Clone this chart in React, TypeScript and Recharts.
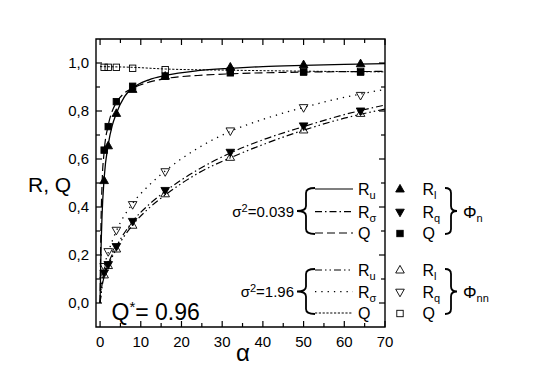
import React from 'react';
import { ComposedChart, Line, Scatter, XAxis, YAxis, ReferenceArea } from 'recharts';

// ---------- data ----------
const X_TICKS = [0, 5, 10, 15, 20, 25, 30, 35, 40, 45, 50, 55, 60, 65, 70];
const X_LABELS = ['0', '10', '20', '30', '40', '50', '60', '70'];
const Y_TICKS = [0, 0.1, 0.2, 0.3, 0.4, 0.5, 0.6, 0.7, 0.8, 0.9, 1.0];
const Y_LABELS = ['0,0', '0,2', '0,4', '0,6', '0,8', '1,0'];

// theory curves, sigma^2 = 0.039
const RU039_A = [0, 0.2, 0.5, 1, 2, 3, 4, 6, 8, 12, 16, 24, 32, 40, 50, 60, 70];
const RU039_V = [0, 0.2, 0.37, 0.52, 0.66, 0.74, 0.79, 0.86, 0.895, 0.93, 0.948, 0.968, 0.978, 0.985, 0.99, 0.994, 0.997];
const RS039_A = [0, 0.5, 1, 2, 4, 8, 12, 16, 24, 32, 40, 50, 60, 70];
const RS039_V = [0, 0.08, 0.12, 0.165, 0.235, 0.34, 0.41, 0.465, 0.555, 0.625, 0.68, 0.735, 0.785, 0.825];
const Q039_A = [0, 0.2, 0.5, 1, 2, 3, 4, 6, 8, 12, 16, 24, 32, 50, 70];
const Q039_V = [0, 0.3, 0.5, 0.63, 0.74, 0.8, 0.835, 0.875, 0.895, 0.92, 0.935, 0.948, 0.955, 0.962, 0.965];
// theory curves, sigma^2 = 1.96
const RU196_A = [0, 0.5, 1, 2, 4, 8, 12, 16, 24, 32, 40, 50, 60, 70];
const RU196_V = [0, 0.07, 0.11, 0.155, 0.225, 0.325, 0.395, 0.45, 0.54, 0.605, 0.66, 0.72, 0.77, 0.808];
const RS196_A = [0, 0.5, 1, 2, 4, 8, 12, 16, 24, 32, 40, 50, 60, 70];
const RS196_V = [0, 0.1, 0.15, 0.21, 0.3, 0.415, 0.49, 0.55, 0.645, 0.715, 0.765, 0.815, 0.857, 0.89];
const Q196_A = [0, 8, 16, 32, 50, 70];
const Q196_V = [0.985, 0.982, 0.975, 0.97, 0.966, 0.963];

// simulation points
const ALPHA_PTS = [1, 2, 4, 8, 16, 32, 50, 64];
const RL_N = [0.51, 0.655, 0.79, 0.89, 0.945, 0.983, 0.993, 0.997];
const RQ_N = [0.125, 0.16, 0.235, 0.34, 0.469, 0.628, 0.738, 0.8];
const Q_N = [0.637, 0.735, 0.839, 0.903, 0.945, 0.959, 0.962, 0.962];
const RL_NN = [0.117, 0.156, 0.225, 0.324, 0.455, 0.607, 0.721, 0.79];
const RQ_NN = [0.152, 0.214, 0.303, 0.41, 0.547, 0.717, 0.814, 0.865];
const Q_NN = [0.982, 0.982, 0.982, 0.978, 0.972, 0.968, 0.965, 0.965];

const zip = (a: number[], v: number[]) => a.map((x, i) => ({ a: x, v: v[i] }));

// ---------- layout ----------
const W = 541;
const H = 374;
const M_TOP = 31;
const M_RIGHT = 164;
const YAXIS_W = 88;
const XAXIS_H = 55;
const PH = H - M_TOP - XAXIS_H;
const PW = W - M_RIGHT - YAXIS_W;
const F = 'Liberation Sans, Arial, Helvetica, sans-serif';
const K = '#000';

const DASH = {
  solid: undefined as string | undefined,
  dashDot: '7 3 1.5 3',
  dashed: '8 4',
  dashDotDot: '7 3 1.5 3 1.5 3',
  dotted: '1.3 5',
  fine: '2.2 1.6',
};

// ---------- ticks ----------
const XTick = (props: any) => {
  const { x, y, payload } = props;
  const v = payload.value;
  const major = v % 10 === 0;
  const len = major ? 6 : 4;
  const label = X_LABELS.find((l) => Number(l) === v);
  return (
    <g>
      <line x1={x} y1={y} x2={x} y2={y - len} stroke={K} strokeWidth={1.2} />
      <line x1={x} y1={y - PH} x2={x} y2={y - PH + len} stroke={K} strokeWidth={1.2} />
      {major && label !== undefined && (
        <text x={x} y={y + 20} textAnchor="middle" fontSize={15} fontFamily={F} fill={K}>
          {label}
        </text>
      )}
    </g>
  );
};

const YTick = (props: any) => {
  const { x, y, payload } = props;
  const v = payload.value;
  const idx = Math.round(v * 10);
  const major = idx % 2 === 0;
  const len = major ? 6 : 4;
  const label = major ? Y_LABELS[idx / 2] : undefined;
  return (
    <g>
      <line x1={x} y1={y} x2={x + len} y2={y} stroke={K} strokeWidth={1.2} />
      <line x1={x + PW} y1={y} x2={x + PW - len} y2={y} stroke={K} strokeWidth={1.2} />
      {label && (
        <text x={x - 7} y={y + 5.3} textAnchor="end" fontSize={15} fontFamily={F} fill={K}>
          {label}
        </text>
      )}
    </g>
  );
};

// ---------- markers ----------
const triUp = (cx: number, cy: number, filled: boolean, key?: any) => (
  <polygon
    key={key}
    points={`${cx},${cy - 4.6} ${cx - 4.3},${cy + 3} ${cx + 4.3},${cy + 3}`}
    fill={filled ? K : 'none'}
    stroke={K}
    strokeWidth={0.9}
  />
);
const triDown = (cx: number, cy: number, filled: boolean, key?: any) => (
  <polygon
    key={key}
    points={`${cx},${cy + 4.6} ${cx - 4.3},${cy - 3} ${cx + 4.3},${cy - 3}`}
    fill={filled ? K : 'none'}
    stroke={K}
    strokeWidth={0.9}
  />
);
const square = (cx: number, cy: number, filled: boolean, key?: any) => (
  <rect
    key={key}
    x={cx - 3.2}
    y={cy - 3.2}
    width={6.4}
    height={6.4}
    fill={filled ? K : 'none'}
    stroke={K}
    strokeWidth={0.9}
  />
);

const mk = (fn: typeof triUp, filled: boolean) => (p: any) => fn(p.cx, p.cy, filled);

// ---------- legend overlay ----------
const brace = (xTip: number, xArm: number, y0: number, y1: number, left: boolean) => {
  const ym = (y0 + y1) / 2;
  const xm = (xTip + xArm) / 2;
  const r = 5;
  const d = [
    `M ${xArm} ${y0}`,
    `Q ${xm} ${y0} ${xm} ${y0 + r}`,
    `L ${xm} ${ym - r}`,
    `Q ${xm} ${ym} ${xTip} ${ym}`,
    `Q ${xm} ${ym} ${xm} ${ym + r}`,
    `L ${xm} ${y1 - r}`,
    `Q ${xm} ${y1} ${xArm} ${y1}`,
  ].join(' ');
  return <path d={d} fill="none" stroke={K} strokeWidth={1.8} key={`${xTip}-${y0}-${left}`} />;
};

const Sub = ({ x, y, main, sub, size = 16 }: any) => (
  <text x={x} y={y} fontSize={size} fontFamily={F} fill={K}>
    {main}
    {sub && (
      <tspan dy={4} fontSize={11}>
        {sub}
      </tspan>
    )}
  </text>
);

const G1 = [181, 203.7, 225];
const G2 = [262, 283.7, 305];
const THEORY_LABELS = [
  { main: 'R', sub: 'u' },
  { main: 'R', sub: 'σ' },
  { main: 'Q', sub: '' },
];
const SIM_LABELS = [
  { main: 'R', sub: 'l' },
  { main: 'R', sub: 'q' },
  { main: 'Q', sub: '' },
];

const LegendOverlay = () => {
  const lineX0 = 307;
  const lineX1 = 345;
  const labX = 350;
  const symX = 392;
  const simX = 414.5;
  const g1Dash = [DASH.solid, DASH.dashDot, DASH.dashed];
  const g2Dash = [DASH.dashDotDot, DASH.dotted, DASH.fine];
  const groups = [
    { rows: G1, dashes: g1Dash, sigma: '0.039', filled: true, phi: 'n' },
    { rows: G2, dashes: g2Dash, sigma: '1.96', filled: false, phi: 'nn' },
  ];
  return (
    <svg
      width={W}
      height={H}
      style={{ position: 'absolute', left: 0, top: 0, pointerEvents: 'none', overflow: 'visible' }}
    >
      {/* axis titles */}
      <text x={20} y={184} fontSize={21} fontFamily={F} fill={K}>
        R, Q
      </text>
      <text x={235} y={353} fontSize={24} fontFamily={F} fill={K} textAnchor="middle">
        α
      </text>
      <text x={103.5} y={312} fontSize={23} fontFamily={F} fill={K}>
        Q
        <tspan dy={-8} fontSize={15}>
          *
        </tspan>
        <tspan dy={8}>= 0.96</tspan>
      </text>
      {groups.map((g, gi) => {
        const ym = g.rows[1];
        return (
          <g key={gi}>
            <text x={286} y={ym + 5.5} textAnchor="end" fontSize={15} fontFamily={F} fill={K}>
              σ
              <tspan dy={-5} fontSize={11}>
                2
              </tspan>
              <tspan dy={5}>={g.sigma}</tspan>
            </text>
            {brace(289, 307, g.rows[0] - 1, g.rows[2] + 1, true)}
            {g.rows.map((ry, i) => (
              <g key={i}>
                <line
                  x1={lineX0}
                  y1={ry}
                  x2={lineX1}
                  y2={ry}
                  stroke={K}
                  strokeWidth={1.2}
                  strokeDasharray={g.dashes[i]}
                />
                <Sub x={labX} y={ry + 5.8} main={THEORY_LABELS[i].main} sub={THEORY_LABELS[i].sub} />
                {i === 0 && triUp(symX, ry, g.filled)}
                {i === 1 && triDown(symX, ry + 0.5, g.filled)}
                {i === 2 && square(symX, ry + 0.5, g.filled)}
                <Sub x={simX} y={ry + 5.8} main={SIM_LABELS[i].main} sub={SIM_LABELS[i].sub} />
              </g>
            ))}
            {brace(449, 437, g.rows[0] - 1, g.rows[2] + 1, false)}
            <Sub x={455} y={ym + 6} main="Φ" sub={g.phi} size={17} />
          </g>
        );
      })}
    </svg>
  );
};

export default function App() {
  return (
    <div style={{ position: 'relative', width: W, height: H, background: '#fff' }}>
      <ComposedChart width={W} height={H} margin={{ top: M_TOP, right: M_RIGHT, left: 0, bottom: 0 }}>
        <XAxis
          type="number"
          dataKey="a"
          domain={[-1, 70]}
          allowDataOverflow
          ticks={X_TICKS}
          interval={0}
          tickLine={false}
          axisLine={false}
          tickSize={0}
          tickMargin={0}
          height={XAXIS_H}
          tick={XTick}
        />
        <YAxis
          type="number"
          dataKey="v"
          domain={[-0.1, 1.1]}
          allowDataOverflow
          ticks={Y_TICKS}
          interval={0}
          tickLine={false}
          axisLine={false}
          tickSize={0}
          tickMargin={0}
          width={YAXIS_W}
          tick={YTick}
        />
        <ReferenceArea x1={-1} x2={70} y1={-0.1} y2={1.1} fill="none" stroke={K} strokeWidth={1.4} />
        <Line data={zip(RU039_A, RU039_V)} dataKey="v" type="monotone" stroke={K} strokeWidth={1.3} dot={false} isAnimationActive={false} />
        <Line data={zip(RS039_A, RS039_V)} dataKey="v" type="monotone" stroke={K} strokeWidth={1.2} strokeDasharray={DASH.dashDot} dot={false} isAnimationActive={false} />
        <Line data={zip(Q039_A, Q039_V)} dataKey="v" type="monotone" stroke={K} strokeWidth={1.2} strokeDasharray={DASH.dashed} dot={false} isAnimationActive={false} />
        <Line data={zip(RU196_A, RU196_V)} dataKey="v" type="monotone" stroke={K} strokeWidth={1.2} strokeDasharray={DASH.dashDotDot} dot={false} isAnimationActive={false} />
        <Line data={zip(RS196_A, RS196_V)} dataKey="v" type="monotone" stroke={K} strokeWidth={1.3} strokeDasharray={DASH.dotted} dot={false} isAnimationActive={false} />
        <Line data={zip(Q196_A, Q196_V)} dataKey="v" type="monotone" stroke={K} strokeWidth={1} strokeDasharray={DASH.fine} dot={false} isAnimationActive={false} />
        <Scatter data={zip(ALPHA_PTS, Q_NN)} dataKey="v" shape={mk(square, false)} isAnimationActive={false} />
        <Scatter data={zip(ALPHA_PTS, RL_NN)} dataKey="v" shape={mk(triUp, false)} isAnimationActive={false} />
        <Scatter data={zip(ALPHA_PTS, RQ_NN)} dataKey="v" shape={mk(triDown, false)} isAnimationActive={false} />
        <Scatter data={zip(ALPHA_PTS, Q_N)} dataKey="v" shape={mk(square, true)} isAnimationActive={false} />
        <Scatter data={zip(ALPHA_PTS, RL_N)} dataKey="v" shape={mk(triUp, true)} isAnimationActive={false} />
        <Scatter data={zip(ALPHA_PTS, RQ_N)} dataKey="v" shape={mk(triDown, true)} isAnimationActive={false} />
      </ComposedChart>
      <LegendOverlay />
    </div>
  );
}
